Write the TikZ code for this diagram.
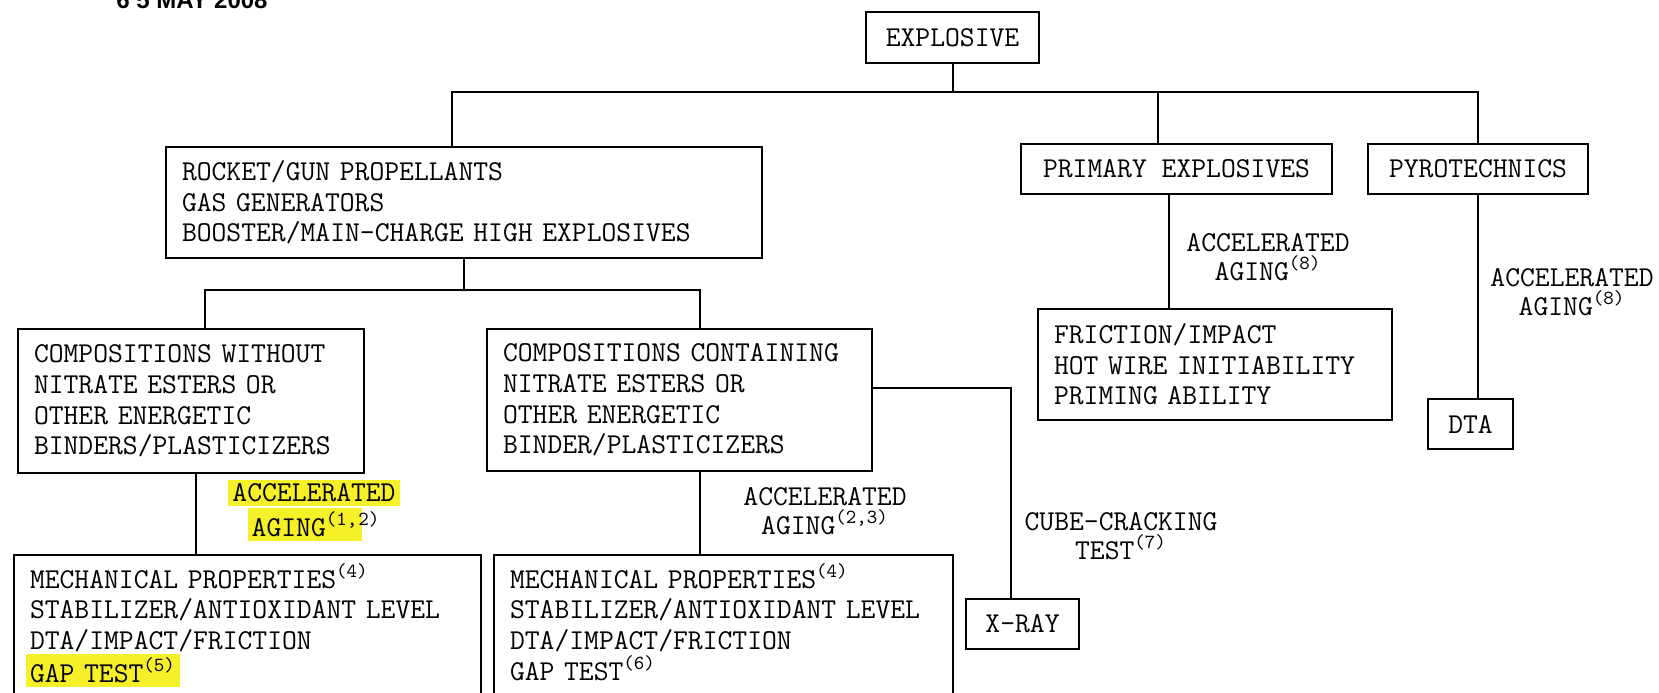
\documentclass[tikz,border=0pt]{standalone}
\usepackage{fontspec}
\newfontfamily\stampfont{Liberation Sans}
\usepackage{tikz}
\usetikzlibrary{calc}
\definecolor{hlyellow}{RGB}{246,240,40}
\newcommand{\hl}[1]{{\setlength{\fboxsep}{2pt}\colorbox{hlyellow}{#1}}}
\newcommand{\fnum}[1]{\textsuperscript{(#1)}}

\begin{document}
\begin{tikzpicture}[x=0.5pt, y=-0.5pt,
  font=\ttfamily\fontsize{14.4pt}{15.3pt}\selectfont,
  box/.style={draw, line width=1pt, anchor=north west, inner ysep=0pt},
  lbox/.style={box, align=left, inner xsep=8pt},
  cbox/.style={box, align=center, inner xsep=0pt},
  lab/.style={align=center, inner sep=0pt, font=\ttfamily\fontsize{14.4pt}{14.5pt}\selectfont},
  link/.style={draw, line width=1pt}
]
\useasboundingbox (0,0) rectangle (1659,692);

% stamp, cut by the page edge
\node[anchor=base, font=\stampfont\bfseries\fontsize{12pt}{12pt}\selectfont] (stamp) at (192,8) {6 5 MAY 2008};

% boxes
\node[cbox, minimum width=86.5pt, minimum height=25.5pt] (explosive) at (865,11) {EXPLOSIVE};
\node[lbox, text width=282pt, minimum height=55.5pt] (rocket) at (165,146)
  {ROCKET/GUN PROPELLANTS\\GAS GENERATORS\\BOOSTER/MAIN-CHARGE HIGH EXPLOSIVES};
\node[cbox, minimum width=155.5pt, minimum height=25pt] (primary) at (1020,143) {PRIMARY EXPLOSIVES};
\node[cbox, minimum width=110pt, minimum height=25pt] (pyro) at (1367,143) {PYROTECHNICS};
\node[lbox, text width=157pt, minimum height=72pt] (compwo) at (17,328)
  {COMPOSITIONS WITHOUT\\NITRATE ESTERS OR\\OTHER ENERGETIC\\BINDERS/PLASTICIZERS};
\node[lbox, text width=176.5pt, minimum height=71pt] (compwith) at (486,328)
  {COMPOSITIONS CONTAINING\\NITRATE ESTERS OR\\OTHER ENERGETIC\\BINDER/PLASTICIZERS};
\node[lbox, text width=161pt, minimum height=55.5pt] (primtests) at (1037,308)
  {FRICTION/IMPACT\\HOT WIRE INITIABILITY\\PRIMING ABILITY};
\node[cbox, minimum width=42.5pt, minimum height=25pt] (dta) at (1427,398) {DTA};
\node[lbox, text width=217.5pt, inner ysep=4.5pt, text depth=62pt] (mech1) at (13,554)
  {MECHANICAL PROPERTIES\fnum{4}\\STABILIZER/ANTIOXIDANT LEVEL\\DTA/IMPACT/FRICTION\\%
   \hspace*{-2pt}\hl{GAP TEST\fnum{5}}};
\node[lbox, text width=213.5pt, inner ysep=4.5pt, text depth=62pt] (mech2) at (493,554)
  {MECHANICAL PROPERTIES\fnum{4}\\STABILIZER/ANTIOXIDANT LEVEL\\DTA/IMPACT/FRICTION\\GAP TEST\fnum{6}};
\node[cbox, minimum width=56.5pt, minimum height=25pt] (xray) at (965,598) {X-RAY};

% labels on the branches
\node[lab] (age1) at (314,510) {\hl{ACCELERATED}\\\hl{AGING\textsuperscript{(1,}}\kern-2pt\textsuperscript{2)}};
\node[lab] (age2) at (825,511) {ACCELERATED\\AGING\fnum{2,3}};
\node[lab] (cube) at (1121,536) {CUBE-CRACKING\\TEST\fnum{7}};
\node[lab] (age3) at (1268,257) {ACCELERATED\\AGING\fnum{8}};
\node[lab] (age4) at (1572,292) {ACCELERATED\\AGING\fnum{8}};

% tree lines
\draw[link] (explosive.south) -- ++(0,28) coordinate (j0);
\draw[link] ($(rocket.north)+(-12,0)$) |- (j0) -| (pyro.north);
\coordinate (p1) at ($(primary.north)+(-19,0)$);
\draw[link] (p1) -- (p1 |- j0);
\draw[link] (rocket.south) -- ++(0,31) coordinate (j1);
\coordinate (w1) at ($(compwo.north)+(14,0)$);
\coordinate (w2) at ($(compwith.north)+(20,0)$);
\draw[link] (w1) |- (j1) -| (w2);
\coordinate (w3) at ($(compwo.south)+(5,0)$);
\draw[link] (w3) -- (w3 |- mech1.north);
\coordinate (w4) at ($(compwith.south)+(20,0)$);
\draw[link] (w4) -- (w4 |- mech2.north);
\coordinate (x1) at ($(xray.north)+(-12,0)$);
\draw[link] ($(compwith.east)+(0,-12)$) -| (x1);
\coordinate (p2) at ($(primary.south)+(-8,0)$);
\draw[link] (p2) -- (p2 |- primtests.north);
\draw[link] (pyro.south) -- (pyro.south |- dta.north);
\end{tikzpicture}
\end{document}
